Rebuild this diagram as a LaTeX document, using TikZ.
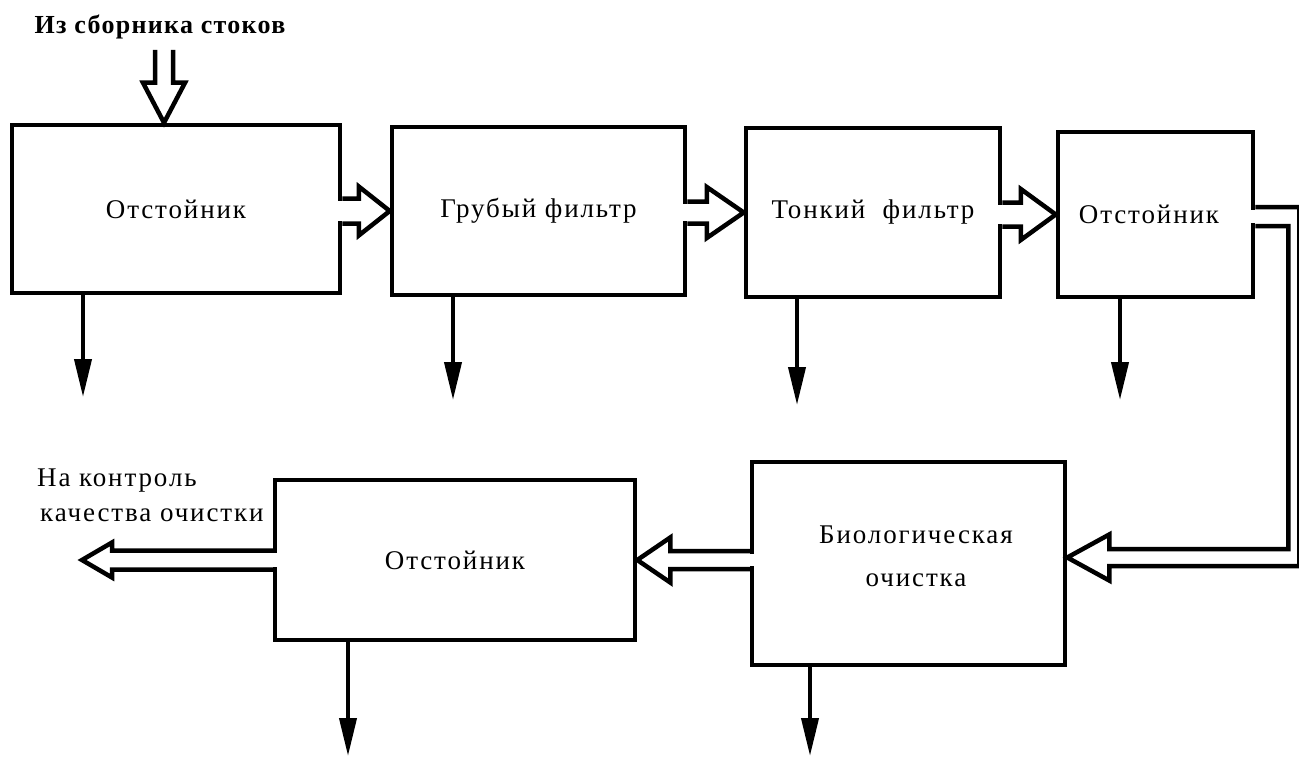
\documentclass[tikz,border=0pt]{standalone}
\usepackage{fontspec}
\setmainfont{Liberation Serif}[LetterSpace=7]
\newfontfamily\boldlab{Liberation Serif}[LetterSpace=5]
\usetikzlibrary{calc,arrows.meta}
\newcommand\hollowarr[5]{% #1 shaft start, #2 tip, #3 shaft half, #4 head half, #5 head length (signed)
  \fill[white] let \p1=(#1), \p2=(#2) in ({\x1-4pt},{\y2+#3pt-2.6pt}) rectangle ({\x1+4pt},{\y2-#3pt+2.6pt});
  \draw[pipe] let \p1=(#1), \p2=(#2) in
    (\x1,{\y2+#3pt}) -- ({\x2-(#5pt)},{\y2+#3pt}) -- ({\x2-(#5pt)},{\y2+#4pt}) -- (\x2,\y2)
    -- ({\x2-(#5pt)},{\y2-#4pt}) -- ({\x2-(#5pt)},{\y2-#3pt}) -- (\x1,{\y2-#3pt});
}
\begin{document}
\begin{tikzpicture}[x=1pt,y=-1pt,
  box/.style={draw, line width=4.5pt, inner sep=0pt, font=\fontsize{27}{30}\selectfont},
  txt/.style={inner sep=0pt, font=\fontsize{27}{30}\selectfont},
  pipe/.style={line width=4.5pt, line join=miter},
  drop/.style={line width=4pt, -{Triangle[length=38pt,width=17pt]}},
  lbl/.style={font=\fontsize{27}{35}\selectfont, inner sep=0pt}]
\useasboundingbox (0,0) rectangle (1299,757);
\fill[white] (0,0) rectangle (1299,757);

\node[box, minimum width=328pt, minimum height=168pt] (b1) at (176,209) {Отстойник};
\node[box, minimum width=293pt, minimum height=168pt] (b2) at (538.5,211) {Грубый фильтр};
\node[box, minimum width=254pt, minimum height=169pt] (b3) at (873,212.5) {Тонкий\ \ фильтр};
\node[box, minimum width=195pt, minimum height=165pt] (b4) at (1155.5,214.5) {};
\node[txt] (b4t) at (1149,214) {Отстойник};
\node[box, minimum width=360pt, minimum height=160pt] (b5) at (455,560) {Отстойник};
\node[box, minimum width=313pt, minimum height=203pt] (b6) at (908.5,563.5) {};
\node[txt, align=center] (b6t) at (916,556) {Биологическая\\[13pt]очистка};

\node[lbl, font=\boldlab\bfseries\fontsize{26}{30}\selectfont] (src) at (160,27) {Из сборника стоков};
\node[lbl, align=left, anchor=west] (dst) at (37,495) {На контроль\\\hspace{3pt}качества очистки};

% inlet
\coordinate (intop) at (164,50);
\coordinate (intip) at (intop |- b1.north);
\draw[pipe] let \p1=(intop), \p2=(intip) in
  ({\x1-9pt},\y1) -- ({\x1-9pt},{\y2+40pt}) -- ({\x1-21pt},{\y2+40pt}) -- (\x2,\y2)
  -- ({\x1+21pt},{\y2+40pt}) -- ({\x1+9pt},{\y2+40pt}) -- ({\x1+9pt},\y1);

% hollow arrows between boxes
\hollowarr{b1.east}{b2.west}{12.5}{24.5}{31}
\hollowarr{b2.east}{b3.west}{11}{25.5}{37}
\hollowarr{b3.east}{b4.west}{12}{25.5}{35}
\hollowarr{b6.west}{b5.east}{9}{22.5}{-33}
\coordinate (out) at (82,560);
\hollowarr{b5.west}{out}{9.5}{17.5}{-30}

% pipe from b4 to b6
\fill[white] let \p1=(b4.east) in ({\x1-4pt},{\y1+7.5pt-2.6pt}) rectangle ({\x1+4pt},{\y1-11.5pt+2.6pt});
\draw[pipe] let \p1=(b4.east), \p2=($(b6.east)+(0,-6)$) in
  (\x1,{\y1+7.5pt}) -- ({\x1+44pt},{\y1+7.5pt}) -- ({\x1+44pt},{\y2-8.5pt}) -- ({\x2+42pt},{\y2-8.5pt})
  -- ({\x2+42pt},{\y2-23pt}) -- (\x2,\y2) -- ({\x2+42pt},{\y2+23pt}) -- ({\x2+42pt},{\y2+8.5pt})
  -- ({\x1+33pt},{\y2+8.5pt}) -- ({\x1+33pt},{\y1-11.5pt}) -- (\x1,{\y1-11.5pt});

% outflows
\coordinate (d1) at (83,397);
\coordinate (d2) at (453,400);
\coordinate (d3) at (797,405);
\coordinate (d4) at (1120,400);
\coordinate (d5) at (348,756);
\coordinate (d6) at (810,756);
\draw[drop] (d1 |- b1.south) -- (d1);
\draw[drop] (d2 |- b2.south) -- (d2);
\draw[drop] (d3 |- b3.south) -- (d3);
\draw[drop] (d4 |- b4.south) -- (d4);
\draw[drop] (d5 |- b5.south) -- (d5);
\draw[drop] (d6 |- b6.south) -- (d6);
\end{tikzpicture}
\end{document}
